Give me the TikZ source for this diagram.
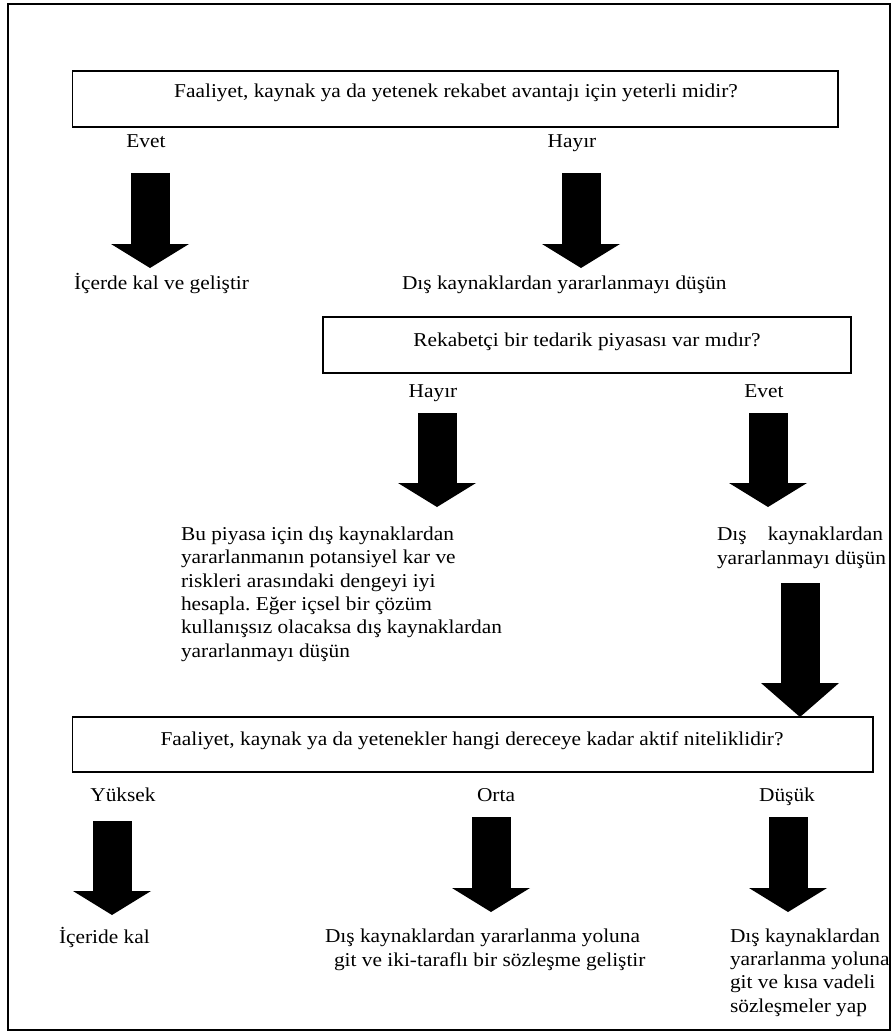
\documentclass[tikz,border=0pt]{standalone}
\usepackage{fontspec}
\setmainfont{Liberation Serif}[FakeStretch=1.09]
\usetikzlibrary{arrows.meta}
\frenchspacing

\begin{document}
\begin{tikzpicture}[x=1pt,y=-1pt,
    txt/.style={font=\fontsize{19.6}{23.3}\selectfont, inner sep=0pt, outer sep=0pt},
    question/.style={draw, line width=1.4pt},
    bigarrow/.style={line width=39pt, line cap=butt,
      -{Triangle[width=78pt 0 0, length=24pt 0 0, line width=0pt]}},
    longarrow/.style={line width=39pt, line cap=butt,
      -{Triangle[width=78pt 0 0, length=34pt 0 0, line width=0pt]}}]

  \useasboundingbox (0,0) rectangle (894,1032);
  \draw[line width=1.8pt] (8,4) rectangle (890,1030);

  % first question and its two branches
  \draw[question] (72.5,71) rectangle (838,127);
  \node[txt, anchor=base] (q1) at (456,98) {Faaliyet, kaynak ya da yetenek rekabet avantajı için yeterli midir?};
  \node[txt, anchor=base] (q1yes) at (146,148) {Evet};
  \node[txt, anchor=base] (q1no) at (572,148) {Hayır};
  \node[txt, anchor=base west] (keep) at (74,289) {İçerde kal ve geliştir};
  \node[txt, anchor=base west] (consider) at (402,289) {Dış kaynaklardan yararlanmayı düşün};
  \coordinate (a1s) at (150,173); \coordinate (a1e) at (150,268);
  \coordinate (a2s) at (581,173); \coordinate (a2e) at (581,268);
  \draw[bigarrow] (a1s) -- (a1e);
  \draw[bigarrow] (a2s) -- (a2e);

  % second question (multi-line nodes are placed by their last baseline)
  \draw[question] (323,317) rectangle (851,373);
  \node[txt, anchor=base] (q2) at (587,346) {Rekabetçi bir tedarik piyasası var mıdır?};
  \node[txt, anchor=base] (q2no) at (433,397) {Hayır};
  \node[txt, anchor=base] (q2yes) at (764,397) {Evet};
  \node[txt, anchor=base west, align=left] (balance) at (181,657)
    {Bu piyasa için dış kaynaklardan\\
     yararlanmanın potansiyel kar ve\\
     riskleri arasındaki dengeyi iyi\\
     hesapla. Eğer içsel bir çözüm\\
     kullanışsız olacaksa dış kaynaklardan\\
     yararlanmayı düşün};
  \node[txt, anchor=base west, align=left] (consider2) at (717,564)
    {\makebox[166pt][s]{Dış kaynaklardan}\\ yararlanmayı düşün};
  \coordinate (a3s) at (437,413); \coordinate (a3e) at (437,507);
  \coordinate (a4s) at (768,413); \coordinate (a4e) at (768,507);
  \draw[bigarrow] (a3s) -- (a3e);
  \draw[bigarrow] (a4s) -- (a4e);
  \coordinate (a5s) at (800,583); \coordinate (a5e) at (800,717);
  \draw[longarrow] (a5s) -- (a5e);

  % third question
  \draw[question] (72.5,717) rectangle (873,772);
  \node[txt, anchor=base] (q3) at (472,745) {Faaliyet, kaynak ya da yetenekler hangi dereceye kadar aktif niteliklidir?};
  \node[txt, anchor=base] (high) at (123,801) {Yüksek};
  \node[txt, anchor=base] (mid) at (496,801) {Orta};
  \node[txt, anchor=base] (low) at (787,801) {Düşük};
  \node[txt, anchor=base west] (stay) at (59,943) {İçeride kal};
  \node[txt, anchor=base west, align=left] (bilateral) at (325,966)
    {Dış kaynaklardan yararlanma yoluna\\
     \hspace*{9pt}git ve iki-taraflı bir sözleşme geliştir};
  \node[txt, anchor=base west, align=left] (short) at (730,1012)
    {Dış kaynaklardan\\ yararlanma yoluna\\ git ve kısa vadeli\\ sözleşmeler yap};
  \coordinate (a6s) at (112,821); \coordinate (a6e) at (112,915);
  \coordinate (a7s) at (491,817); \coordinate (a7e) at (491,912);
  \coordinate (a8s) at (788,817); \coordinate (a8e) at (788,912);
  \draw[bigarrow] (a6s) -- (a6e);
  \draw[bigarrow] (a7s) -- (a7e);
  \draw[bigarrow] (a8s) -- (a8e);
\end{tikzpicture}
\end{document}
